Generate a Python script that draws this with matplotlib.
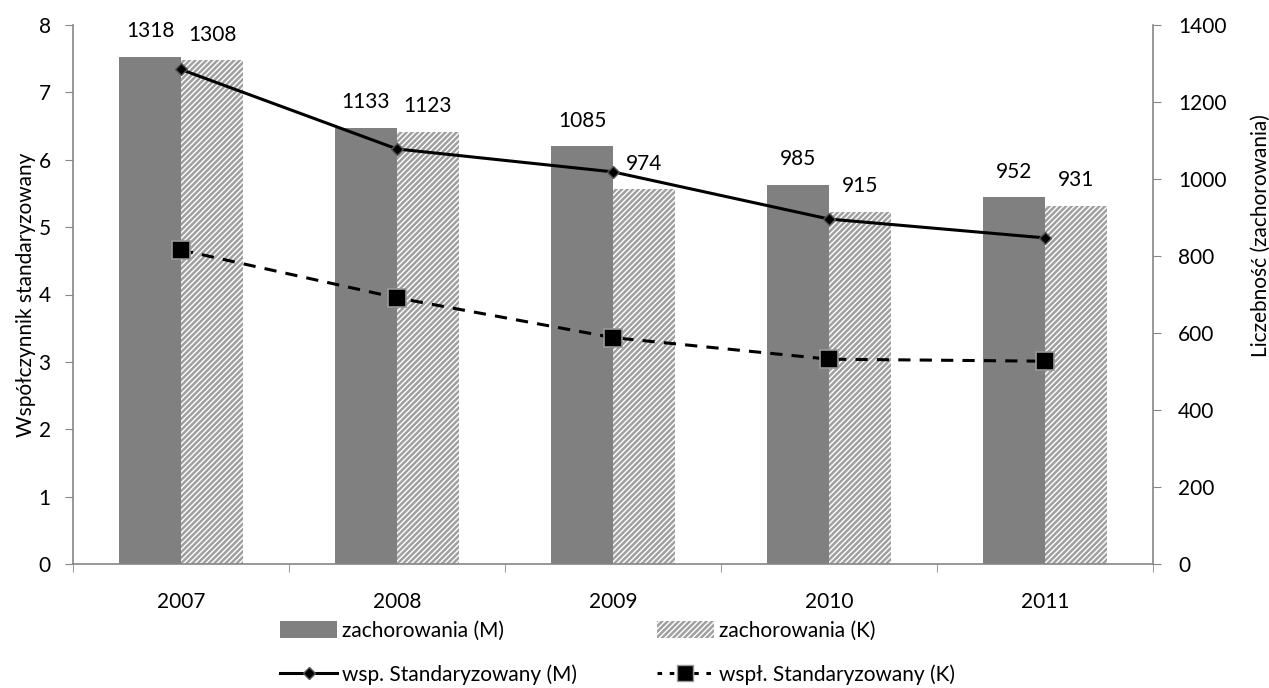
import matplotlib.pyplot as plt
import numpy as np
from matplotlib.lines import Line2D
from matplotlib.patches import Patch

plt.rcParams['font.family'] = ['Lato', 'DejaVu Sans']
plt.rcParams['hatch.linewidth'] = 1.8

years = ["2007", "2008", "2009", "2010", "2011"]
zach_m = [1318, 1133, 1085, 985, 952]
zach_k = [1308, 1123, 974, 915, 931]
wsp_m = [7.34, 6.16, 5.82, 5.12, 4.84]
wsp_k = [4.66, 3.95, 3.36, 3.04, 3.01]

fig = plt.figure(figsize=(12.69, 6.88), dpi=100)
ax = fig.add_axes([73/1269, 1-564/688, 1080/1269, 539/688])
ax2 = ax.twinx()

x = np.arange(len(years))
w = 0.287
fs = 15

# bars on right axis
ax2.bar(x - w/2, zach_m, w, color="#808080", linewidth=0, zorder=1)
ax2.bar(x + w/2, zach_k, w, color="white", edgecolor="#a0a0a0", hatch="//////", linewidth=0, zorder=1)
for i in range(len(years)):
    ax2.text(x[i] - w/2, zach_m[i] + 40, str(zach_m[i]), ha="center", va="bottom", fontsize=fs)
    ax2.text(x[i] + w/2, zach_k[i] + 40, str(zach_k[i]), ha="center", va="bottom", fontsize=fs)

# lines on left axis, drawn above bars
ax.set_zorder(ax2.get_zorder() + 1)
ax.patch.set_visible(False)
ax.plot(x, wsp_m, color="black", lw=2.2, marker="D", ms=6, mfc="black", mec="#555555", mew=1)
ax.plot(x, wsp_k, color="black", lw=2.2, ls=(0, (4, 3)), marker="s", ms=13, mfc="black", mec="#999999", mew=1.2)

ax.set_xlim(-0.5, 4.5)
ax.set_ylim(0, 8)
ax2.set_ylim(0, 1400)
ax.set_yticks(range(0, 9))
ax2.set_yticks(range(0, 1401, 200))
ax.set_xticks(x)
ax.set_xticklabels(years, fontsize=fs)
ax.set_xticks(np.arange(-0.5, 5, 1), minor=True)
ax.tick_params(axis="x", which="major", length=0, pad=20)
ax.tick_params(axis="x", which="minor", length=6, color="#868686", direction="out")
ax.tick_params(axis="y", labelsize=fs, length=6, color="#868686", direction="out", pad=10)
ax2.tick_params(axis="y", labelsize=fs, length=6, color="#868686", direction="out", pad=12)

for a in (ax, ax2):
    a.spines["top"].set_visible(False)
    for s in ("left", "right", "bottom"):
        a.spines[s].set_color("#868686")
        a.spines[s].set_linewidth(1.2)
ax.spines["right"].set_visible(False)
ax2.spines["left"].set_visible(False)
ax2.spines["bottom"].set_visible(False)

ax.set_ylabel("Współczynnik standaryzowany", fontsize=fs)
ax.yaxis.set_label_coords(-0.034, 0.5)
ax2.set_ylabel("Liczebność (zachorowania)", fontsize=fs)
ax2.yaxis.set_label_coords(1.091, 0.61)

# legend: 2x2 grid, columns filled first
hm = Patch(facecolor="#808080", linewidth=0)
hk = Patch(facecolor="white", edgecolor="#a0a0a0", hatch="//////", linewidth=0)
l_m = Line2D([], [], color="black", lw=2.2, marker="D", ms=6, mfc="black", mec="#555555")
l_k = Line2D([], [], color="black", lw=2.2, ls=(0, (1.5, 2.5)), marker="s", ms=11, mfc="black", mec="#999999")
fig.legend([hm, l_m, hk, l_k],
           ["zachorowania (M)", "wsp. Standaryzowany (M)", "zachorowania (K)", "wspł. Standaryzowany (K)"],
           loc="center left", bbox_to_anchor=(280/1269, 1-653/688), ncol=2, frameon=False,
           fontsize=fs, handlelength=2.75, handleheight=0.9, handletextpad=0.25,
           columnspacing=3.8, labelspacing=1.15, borderpad=0, borderaxespad=0)

fig.savefig("out.png", dpi=100)
